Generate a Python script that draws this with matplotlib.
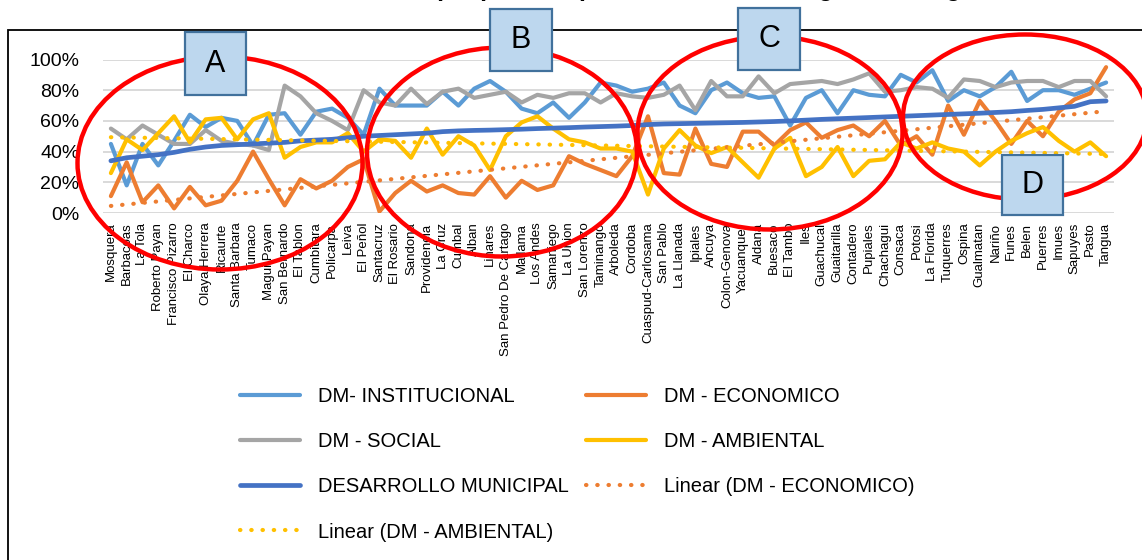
import numpy as np
import matplotlib
matplotlib.use("Agg")
import matplotlib.pyplot as plt
from matplotlib.patches import Ellipse, Rectangle

plt.rcParams['font.family'] = ['Liberation Sans', 'DejaVu Sans']

W, H = 1142, 560

municipios = [
    "Mosquera", "Barbacoas", "La Tola", "Roberto Payan", "Francisco Pizarro",
    "El Charco", "Olaya Herrera", "Ricaurte", "Santa Barbara", "Tumaco",
    "Magui Payan", "San Bernardo", "El Tablon", "Cumbitara", "Policarpa",
    "Leiva", "El Peñol", "Santacruz", "El Rosario", "Sandona", "Providencia",
    "La Cruz", "Cumbal", "Alban", "Linares", "San Pedro De Cartago", "Mallama",
    "Los Andes", "Samaniego", "La Union", "San Lorenzo", "Taminango",
    "Arboleda", "Cordoba", "Cuaspud-Carlosama", "San Pablo", "La Llanada",
    "Ipiales", "Ancuya", "Colon-Genova", "Yacuanquer", "Aldana", "Buesaco",
    "El Tambo", "Iles", "Guachucal", "Guaitarilla", "Contadero", "Pupiales",
    "Chachagui", "Consaca", "Potosi", "La Florida", "Tuquerres", "Ospina",
    "Gualmatan", "Nariño", "Funes", "Belen", "Puerres", "Imues", "Sapuyes",
    "Pasto", "Tangua",
]

dm_institucional = [45, 18, 45, 31, 47, 64, 56, 62, 60, 44, 64, 65, 51, 66, 68, 62,
                    51, 81, 70, 70, 70, 79, 70, 81, 86, 79, 68, 65, 72, 62, 72, 85,
                    83, 79, 81, 85, 70, 65, 80, 85, 78, 75, 76, 57, 75, 80, 65, 80,
                    77, 76, 90, 85, 93, 73, 80, 76, 82, 92, 73, 80, 80, 77, 81, 85]
dm_economico = [11, 33, 7, 18, 3, 17, 5, 8, 21, 40, 22, 5, 22, 16, 21, 30,
                35, 1, 13, 21, 14, 18, 13, 12, 24, 10, 21, 15, 18, 37, 32, 28,
                24, 37, 63, 26, 25, 55, 32, 30, 53, 53, 44, 54, 59, 49, 54, 57,
                50, 60, 44, 50, 38, 70, 51, 73, 60, 45, 60, 50, 66, 74, 78, 95]
dm_social = [55, 48, 57, 51, 45, 45, 54, 47, 45, 44, 41, 83, 76, 65, 60, 54,
             80, 72, 70, 81, 71, 79, 81, 75, 77, 79, 72, 77, 75, 78, 78, 72,
             78, 76, 75, 77, 83, 67, 86, 76, 76, 89, 78, 84, 85, 86, 84, 87,
             91, 79, 80, 82, 81, 75, 87, 86, 82, 85, 86, 86, 82, 86, 86, 76]
dm_ambiental = [26, 48, 41, 52, 63, 46, 61, 62, 48, 61, 65, 36, 43, 46, 46, 52,
                40, 48, 47, 36, 55, 38, 50, 44, 28, 50, 59, 63, 55, 48, 46, 42,
                42, 40, 12, 42, 54, 44, 39, 43, 33, 23, 42, 49, 24, 30, 43, 24,
                34, 35, 46, 42, 46, 42, 40, 31, 40, 47, 52, 56, 47, 40, 46, 37]
desarrollo_municipal = [34, 36, 37, 38, 39.5, 41.5, 43, 44, 44.5, 45, 45.5, 46, 47, 47.5, 48, 49,
                        50, 50.5, 51, 51.5, 52, 53, 53.5, 53.8, 54, 54.3, 54.6, 55, 55.3, 55.6, 56, 56.3,
                        56.6, 57, 57.6, 58, 58.2, 58.4, 58.6, 58.8, 59, 59.3, 59.6, 60, 60.5, 61, 61.4, 61.8,
                        62.2, 62.6, 63, 63.4, 63.8, 64.2, 64.6, 65, 65.5, 66, 66.8, 67.5, 68.5, 69.5, 72.5, 73]

titulo = "Desarrollo municipal por componentes, Nariño según ranking"
zonas = ["A", "B", "C", "D"]

x = np.arange(len(municipios))

fig = plt.figure(figsize=(W / 100, H / 100), dpi=100)
ax = fig.add_axes([103 / W, 1 - 213 / H, 1011 / W, 153.5 / H])

kw = dict(lw=3.0, solid_joinstyle='round', solid_capstyle='round')
l_inst, = ax.plot(x, dm_institucional, color='#5B9BD5', label='DM- INSTITUCIONAL', **kw)
l_eco, = ax.plot(x, dm_economico, color='#ED7D31', label='DM - ECONOMICO', **kw)
l_soc, = ax.plot(x, dm_social, color='#A5A5A5', label='DM - SOCIAL', **kw)
l_amb, = ax.plot(x, dm_ambiental, color='#FFC000', label='DM - AMBIENTAL', **kw)
l_dm, = ax.plot(x, desarrollo_municipal, color='#4472C4', label='DESARROLLO MUNICIPAL',
                lw=3.4, solid_joinstyle='round', solid_capstyle='round')

# lineas de tendencia
pe = np.polyfit(x, dm_economico, 1)
pa = np.polyfit(x, dm_ambiental, 1)
dot = dict(lw=3.0, linestyle=(0, (0.1, 2.6)), dash_capstyle='round')
t_eco, = ax.plot(x, np.polyval(pe, x), color='#ED7D31', label='Linear (DM - ECONOMICO)', **dot)
t_amb, = ax.plot(x, np.polyval(pa, x), color='#FFC000', label='Linear (DM - AMBIENTAL)', **dot)

ax.set_xlim(-0.5, len(municipios) - 0.5)
ax.set_ylim(0, 100)
ax.set_yticks(range(0, 101, 20))
ax.set_yticklabels(['%d%%' % v for v in range(0, 101, 20)], fontsize=14)
ax.set_xticks(x)
ax.set_xticklabels(municipios, rotation=90, fontsize=9.5)
ax.tick_params(axis='x', length=0, pad=7)
ax.tick_params(axis='y', length=0, pad=17)
ax.grid(axis='y', color='#D9D9D9', lw=1.4)
ax.set_axisbelow(True)
for s in ax.spines.values():
    s.set_visible(False)

# borde del area del grafico y titulo recortado
fig.add_artist(Rectangle((8 / W, -0.1), 1.2, 1 - 30 / H + 0.1, transform=fig.transFigure,
                         fill=False, ec='black', lw=1.3))
fig.text(0.52, 1 + 4 / H, titulo, ha='center', va='baseline', fontsize=18, weight='bold')

# elipses rojas (cx, cy, ancho, alto en pixeles)
elipses = [(220, 163, 285, 213), (502, 152, 270, 209), (770, 133, 265, 193), (1025, 117, 244, 165)]
for cx, cy, w, h in elipses:
    fig.add_artist(Ellipse((cx / W, 1 - cy / H), w / W, h / H, transform=fig.transFigure,
                           fill=False, ec='#FF0000', lw=3.2, zorder=5))

# cajas con letras (x0, y0, x1, y1 en pixeles)
cajas = [(185, 32, 246, 95), (490, 9, 552, 71), (738, 8, 800, 70), (1002, 155, 1063, 215)]
for (x0, y0, x1, y1), letra in zip(cajas, zonas):
    fig.add_artist(Rectangle((x0 / W, 1 - y1 / H), (x1 - x0) / W, (y1 - y0) / H,
                             transform=fig.transFigure, fc='#BDD7EE', ec='#41719C', lw=1.6, zorder=6))
    fig.text((x0 + x1) / 2 / W, 1 - (y0 + y1) / 2 / H, letra, ha='center', va='center',
             fontsize=22, zorder=7)

handles = [l_inst, l_soc, l_dm, t_amb, l_eco, l_amb, t_eco]
fig.legend(handles, [h.get_label() for h in handles], loc='upper left',
           bbox_to_anchor=(240 / W, 1 - 387 / H), ncol=2, frameon=False, fontsize=14.5,
           handlelength=2.98, handletextpad=0.9, columnspacing=0.85, labelspacing=1.3,
           borderpad=0, borderaxespad=0)

fig.savefig('out.png', dpi=100)
